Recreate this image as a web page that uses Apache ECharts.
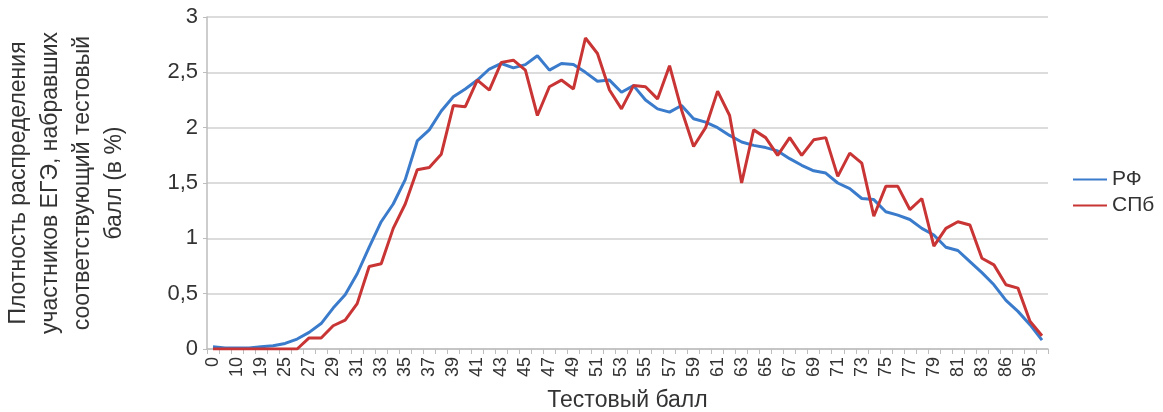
<!DOCTYPE html>
<html>
<head>
<meta charset="utf-8">
<script src="https://cdn.jsdelivr.net/npm/echarts@6/dist/echarts.min.js"></script>
<style>
html,body{margin:0;padding:0;background:#fff;}
#chart{width:1163px;height:412px;}
</style>
</head>
<body>
<div id="chart"></div>
<script>
const categories = ['0','5','10','14','19','22','25','26',
  '27','28','29','30','31','32','33','34','35','36','37','38','39','40',
  '41','42','43','44','45','46','47','48','49','50','51','52','53','54','55',
  '56','57','58','59','60','61','62','63','64','65','66','67','68','69','70',
  '71','72','73','74','75','76','77','78','79','80','81','82','83',
  '84','86','90','95','100'];

const rf = [0.02,0.01,0.01,0.01,0.02,0.03,0.05,0.09,
  0.15,0.23,0.37,0.49,0.68,0.92,1.15,1.31,1.53,1.88,1.98,2.15,2.28,
  2.35,2.43,2.53,2.58,2.54,2.57,2.65,2.52,2.58,2.57,2.50,2.42,2.43,2.32,2.38,
  2.25,2.17,2.14,2.20,2.08,2.05,2.00,1.93,1.87,1.84,1.82,1.79,1.72,1.66,1.61,
  1.59,1.50,1.45,1.36,1.35,1.24,1.21,1.17,1.09,1.03,0.92,0.89,0.79,
  0.69,0.58,0.44,0.34,0.22,0.08];

const spb = [0,0,0,0,0,0,0,0,
  0.10,0.10,0.21,0.26,0.41,0.745,0.77,1.09,1.31,1.62,1.64,1.76,2.20,
  2.19,2.43,2.34,2.59,2.61,2.52,2.11,2.37,2.43,2.35,2.81,2.67,2.34,2.17,2.38,
  2.37,2.26,2.56,2.16,1.83,2.00,2.33,2.11,1.50,1.98,1.91,1.75,1.91,1.75,1.89,
  1.91,1.56,1.77,1.68,1.20,1.47,1.47,1.26,1.36,0.93,1.09,1.15,1.12,
  0.82,0.76,0.58,0.55,0.25,0.12];

const seriesNames = ['РФ','СПб'];
const yTicks = {min:0, max:3, interval:0.5};

const FONT = 'Liberation Sans, Arial, sans-serif';
const chart = echarts.init(document.getElementById('chart'), null, {renderer:'canvas'});
chart.setOption({
  animation:false,
  backgroundColor:'#fff',
  textStyle:{fontFamily:FONT},
  grid:{left:207, right:115, top:17, bottom:63, containLabel:false, outerBoundsMode:'none'},
  legend:{
    orient:'vertical', left:1068, top:164, itemGap:5,
    itemWidth:34, itemHeight:14,
    icon:'path://M0,6 L34,6 L34,8 L0,8 Z',
    textStyle:{fontSize:21, color:'#333', fontFamily:FONT},
    data:seriesNames
  },
  xAxis:{
    type:'category', data:categories, boundaryGap:true,
    name:'Тестовый балл', nameLocation:'middle', nameGap:40,
    nameTextStyle:{fontSize:23, color:'#333', fontFamily:FONT},
    axisLine:{lineStyle:{color:'#bdbdbd', width:1.5}},
    axisTick:{show:true, interval:0, length:5, lineStyle:{color:'#bdbdbd'}},
    axisLabel:{interval:1, rotate:90, margin:8, fontSize:18, color:'#333', fontFamily:FONT}
  },
  yAxis:{
    type:'value', min:yTicks.min, max:yTicks.max, interval:yTicks.interval,
    name:'Плотность распределения\nучастников ЕГЭ, набравших\nсоответствующий тестовый\nбалл (в %)',
    nameLocation:'middle', nameRotate:90, nameGap:76,
    nameTextStyle:{fontSize:23, lineHeight:32, color:'#333', align:'center', fontFamily:FONT},
    axisLine:{show:true, lineStyle:{color:'#bdbdbd', width:1.5}},
    axisTick:{show:true, length:4, lineStyle:{color:'#bdbdbd'}},
    axisLabel:{margin:9, fontSize:22, color:'#333', fontFamily:FONT,
      formatter:v=>String(v).replace('.',',')},
    splitLine:{lineStyle:{color:'#d0d0d0', width:1.5}}
  },
  series:[
    {name:seriesNames[0], type:'line', data:rf, symbol:'none',
     lineStyle:{color:'#3a7bcb', width:3}, itemStyle:{color:'#3a7bcb'}},
    {name:seriesNames[1], type:'line', data:spb, symbol:'none',
     lineStyle:{color:'#c93434', width:3}, itemStyle:{color:'#c93434'}}
  ]
});
</script>
</body>
</html>
